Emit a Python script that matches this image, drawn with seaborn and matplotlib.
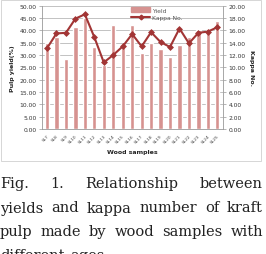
import matplotlib
matplotlib.use("Agg")
import matplotlib.pyplot as plt
import matplotlib.patches as mpatches
import seaborn as sns
import pandas as pd

# data
samples = ["SL7", "SL8", "SL9", "SL10", "SL11", "SL12", "SL13", "SL14", "SL15", "SL16",
           "SL17", "SL18", "SL19", "SL20", "SL21", "SL22", "SL23", "SL24", "SL25"]
yield_pct = [34.8, 37.5, 28.4, 41.5, 45.2, 33.1, 25.8, 42.3, 33.8, 42.3,
             30.7, 34.7, 32.4, 29.1, 34.2, 37.4, 40.1, 40.6, 43.7]
kappa_no = [13.1, 15.5, 15.6, 17.9, 18.6, 14.9, 10.8, 12.0, 13.4, 15.4,
            13.4, 15.7, 14.1, 13.3, 16.3, 13.9, 15.6, 15.8, 16.5]
caption = [["Fig.", "1.", "Relationship", "between"],
           ["yields", "and", "kappa", "number", "of", "kraft"],
           ["pulp", "made", "by", "wood", "samples", "with"],
           ["different", "ages"]]

df = pd.DataFrame({"sample": samples, "Yield": yield_pct, "Kappa No.": kappa_no})

sns.set_style("white")
plt.rcParams["font.family"] = ["DejaVu Sans"]

fig = plt.figure(figsize=(2.66, 2.55), dpi=100)
W, H = 266, 255

# outer chart frame
fig.add_artist(mpatches.Rectangle((1 / W, 1 - 162 / H), 260 / W, 161 / H, transform=fig.transFigure,
                                  fill=False, edgecolor="#d0d0d0", linewidth=0.6))

ax = fig.add_axes([42 / W, 1 - 130 / H, 181 / W, 123.3 / H])
bar_col = "#d69290"
line_col = "#a23535"

sns.barplot(data=df, x="sample", y="Yield", color=bar_col, width=0.45, saturation=1,
            ax=ax, label="Yield")
ax.set_ylim(0, 50)
ax.set_yticks(range(0, 51, 5))
ax.set_yticklabels([f"{v:.2f}" for v in range(0, 51, 5)])
ax.grid(axis="y", color="#b8b8b8", linewidth=0.6)
ax.set_axisbelow(True)

ax2 = ax.twinx()
sns.pointplot(data=df, x="sample", y="Kappa No.", color=line_col, markers="D",
              markersize=2.4, linewidth=1.5, ax=ax2, label="Kappa No.")
ax2.set_ylim(0, 20)
ax2.set_yticks(range(0, 21, 2))
ax2.set_yticklabels([f"{v:.2f}" for v in range(0, 21, 2)])
ax.set_xlim(-0.53, 18.6)

for a in (ax, ax2):
    for s in a.spines.values():
        s.set_visible(False)
    a.tick_params(axis="y", labelsize=4.3, length=0, pad=2, labelcolor="#333333")
ax.spines["left"].set_visible(True)
ax.spines["left"].set_color("#999999")
ax.spines["left"].set_linewidth(0.6)
ax.spines["bottom"].set_visible(True)
ax.spines["bottom"].set_color("#999999")
ax.spines["bottom"].set_linewidth(0.6)
ax2.spines["right"].set_visible(True)
ax2.spines["right"].set_color("#999999")
ax2.spines["right"].set_linewidth(0.6)
ax.tick_params(axis="y", length=2, width=0.5, color="#999999")
ax2.tick_params(axis="y", length=2, width=0.5, color="#999999")

ax.tick_params(axis="x", labelsize=3.2, length=2, width=0.5, color="#999999", pad=1,
               labelcolor="#444444")
plt.setp(ax.get_xticklabels(), rotation=45, ha="right", rotation_mode="anchor")

ax.set_xlabel("Wood samples", fontsize=4.5, fontweight="bold", labelpad=4)
ax.set_ylabel("Pulp yield(%)", fontsize=4.5, fontweight="bold", labelpad=3)
ax2.set_ylabel("Kappa No.", fontsize=4.5, fontweight="bold", rotation=270, labelpad=6)

# legend
h1 = mpatches.Patch(color=bar_col, label="Yield")
h2 = plt.Line2D([], [], color=line_col, marker="D", markersize=2.4, linewidth=1.5, label="Kappa No.")
if ax2.get_legend():
    ax2.get_legend().remove()
if ax.get_legend():
    ax.get_legend().remove()
ax2.legend(handles=[h1, h2], loc="upper left", bbox_to_anchor=(0.47, 1.02), frameon=False,
           fontsize=4.3, handlelength=3.2, handletextpad=0.3, labelspacing=0.4, borderpad=0.2,
           labelcolor="#555555")

# justified caption
fig.canvas.draw()
renderer = fig.canvas.get_renderer()
baselines = [188, 212.5, 236.5, 260.5]
x0, x1 = 0, 263
for i, (words, yb) in enumerate(zip(caption, baselines)):
    texts = [fig.text(0, 1 - yb / H, w, fontsize=10.5, family="DejaVu Serif", color="#222222",
                      va="baseline") for w in words]
    widths = [t.get_window_extent(renderer).width for t in texts]
    if i < len(caption) - 1:
        gap = (x1 - x0 - sum(widths)) / (len(words) - 1)
    else:
        gap = 6
    x = x0
    for t, w in zip(texts, widths):
        t.set_x(x / W)
        x += w + gap

fig.savefig("out.png", dpi=100)
